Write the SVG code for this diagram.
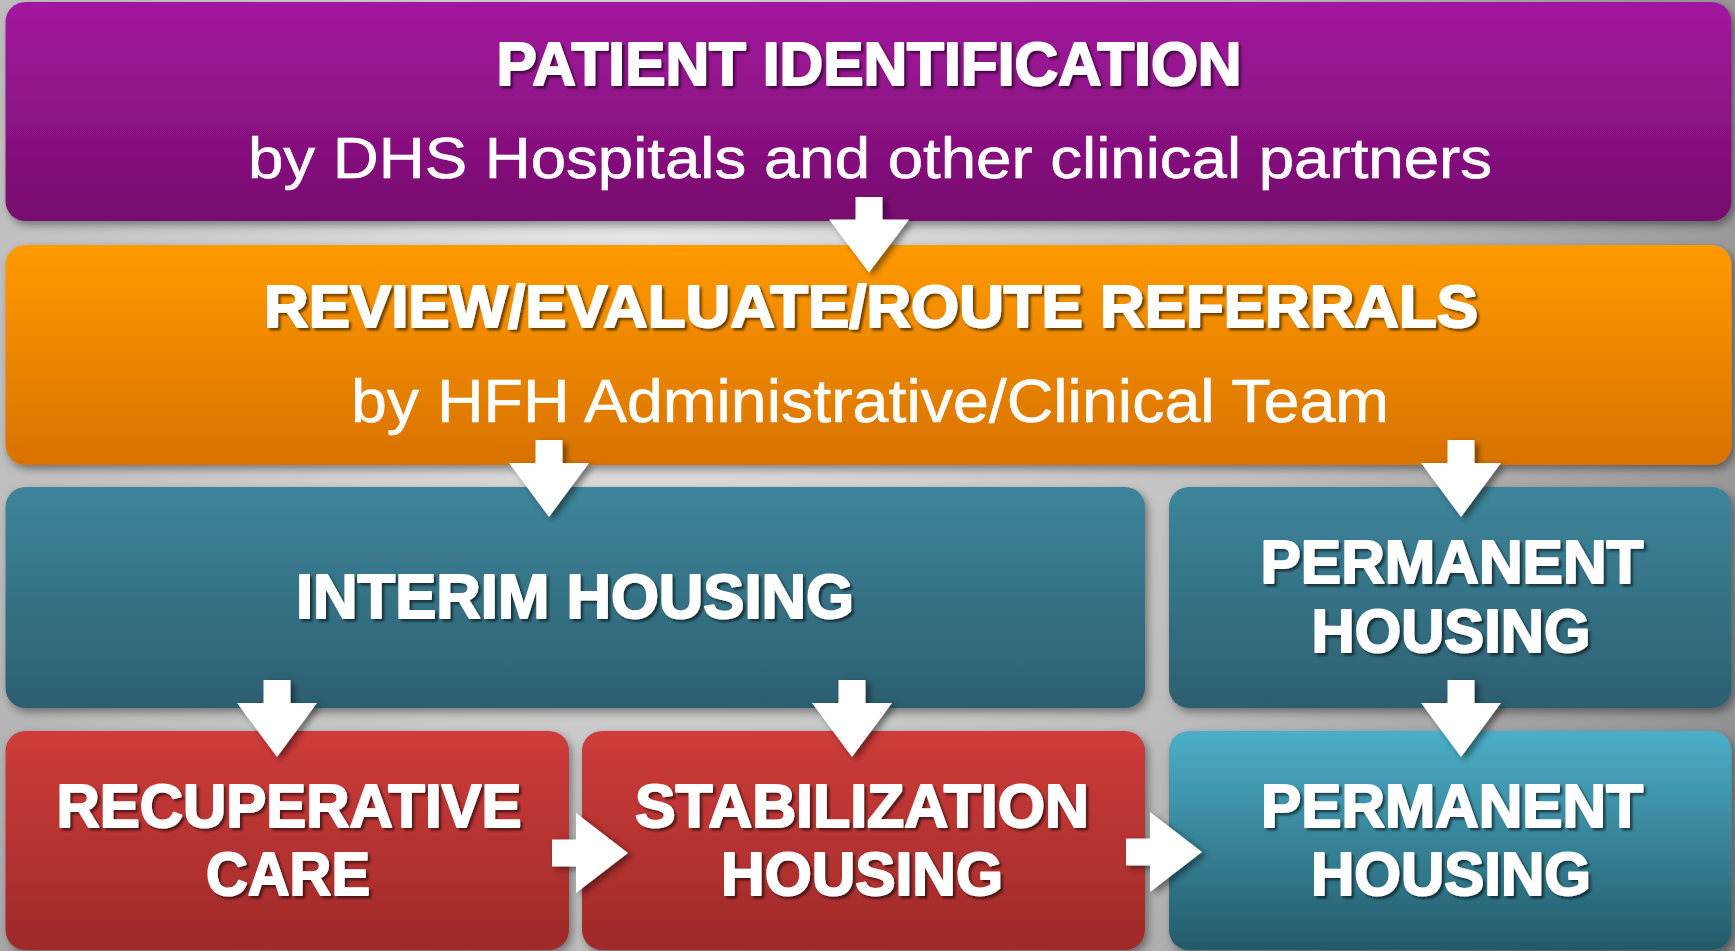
<svg xmlns="http://www.w3.org/2000/svg" xmlns:xlink="http://www.w3.org/1999/xlink" width="1735" height="951" viewBox="0 0 1735 951">
  <defs>
    <radialGradient id="bg" cx="640" cy="260" r="1250" gradientUnits="userSpaceOnUse">
      <stop offset="0" stop-color="#e6e6e6"/>
      <stop offset="0.55" stop-color="#bdbdbd"/>
      <stop offset="1" stop-color="#8c8c8c"/>
    </radialGradient>
    <linearGradient id="gPurple" x1="0" y1="0" x2="0" y2="1">
      <stop offset="0" stop-color="#a3189f"/>
      <stop offset="1" stop-color="#770d6d"/>
    </linearGradient>
    <linearGradient id="gOrange" x1="0" y1="0" x2="0" y2="1">
      <stop offset="0" stop-color="#ff9a00"/>
      <stop offset="1" stop-color="#d87200"/>
    </linearGradient>
    <linearGradient id="gTeal" x1="0" y1="0" x2="0" y2="1">
      <stop offset="0" stop-color="#3e859b"/>
      <stop offset="1" stop-color="#2c5f70"/>
    </linearGradient>
    <linearGradient id="gRed" x1="0" y1="0" x2="0" y2="1">
      <stop offset="0" stop-color="#ce3c3a"/>
      <stop offset="1" stop-color="#9e2a29"/>
    </linearGradient>
    <linearGradient id="gBlue" x1="0" y1="0" x2="0" y2="1">
      <stop offset="0" stop-color="#4caec8"/>
      <stop offset="1" stop-color="#235a6a"/>
    </linearGradient>
    <filter id="boxShadow" x="-5%" y="-10%" width="110%" height="125%">
      <feDropShadow dx="3" dy="4" stdDeviation="4" flood-color="#000" flood-opacity="0.4"/>
    </filter>
    <filter id="txtShadow" x="-5%" y="-20%" width="110%" height="140%">
      <feDropShadow dx="2.5" dy="2.5" stdDeviation="1.2" flood-color="#000" flood-opacity="0.55"/>
    </filter>
    <filter id="arrowShadow" x="-30%" y="-20%" width="160%" height="150%">
      <feDropShadow dx="4" dy="3" stdDeviation="3" flood-color="#000" flood-opacity="0.45"/>
    </filter>
    <path id="downArrow" d="M-13.5,0 H13.5 V23 H40 L0,77 L-40,23 H-13.5 Z"/>
    <path id="rightArrow" d="M0,-13.5 V13.5 H24 V40 L76,0 L24,-40 V-13.5 Z"/>
    <style>
      .box { filter: url(#boxShadow); }
      .title { font-family: "Liberation Sans", Arial, sans-serif; font-weight: bold; fill: #ffffff; stroke: #ffffff; stroke-width: 2; stroke-linejoin: round; text-anchor: middle; filter: url(#txtShadow); }
      .sub { font-family: "Liberation Sans", Arial, sans-serif; fill: #ffffff; stroke: #ffffff; stroke-width: 0.6; text-anchor: middle; }
      .arrow { fill: #ffffff; filter: url(#arrowShadow); }
    </style>
  </defs>

  <rect x="0" y="0" width="1735" height="951" fill="url(#bg)"/>

  <g id="patient-identification">
    <rect class="box" x="5.5" y="2" width="1726" height="219" rx="20" fill="url(#gPurple)"/>
    <text class="title" x="869" y="85" font-size="62" textLength="745" lengthAdjust="spacingAndGlyphs">PATIENT IDENTIFICATION</text>
    <text class="sub" x="870" y="178" font-size="58" textLength="1244" lengthAdjust="spacingAndGlyphs">by DHS Hospitals and other clinical partners</text>
  </g>

  <g id="review-referrals">
    <rect class="box" x="5.5" y="245" width="1726" height="220" rx="20" fill="url(#gOrange)"/>
    <text class="title" x="871" y="327" font-size="60" textLength="1214" lengthAdjust="spacingAndGlyphs">REVIEW/EVALUATE/ROUTE REFERRALS</text>
    <text class="sub" x="870" y="422" font-size="61" textLength="1038" lengthAdjust="spacingAndGlyphs">by HFH Administrative/Clinical Team</text>
  </g>

  <g id="interim-housing">
    <rect class="box" x="5.5" y="487" width="1139.5" height="221" rx="20" fill="url(#gTeal)"/>
    <text class="title" x="575" y="618" font-size="63" textLength="558" lengthAdjust="spacingAndGlyphs">INTERIM HOUSING</text>
  </g>

  <g id="permanent-housing-top">
    <rect class="box" x="1169" y="487" width="562.5" height="221" rx="20" fill="url(#gTeal)"/>
    <text class="title" x="1452" y="583" font-size="62" textLength="383" lengthAdjust="spacingAndGlyphs">PERMANENT</text>
    <text class="title" x="1451" y="652" font-size="62" textLength="279" lengthAdjust="spacingAndGlyphs">HOUSING</text>
  </g>

  <g id="recuperative-care">
    <rect class="box" x="5.5" y="731" width="563.5" height="219" rx="20" fill="url(#gRed)"/>
    <text class="title" x="289" y="827" font-size="62" textLength="465" lengthAdjust="spacingAndGlyphs">RECUPERATIVE</text>
    <text class="title" x="288" y="895" font-size="62" textLength="164" lengthAdjust="spacingAndGlyphs">CARE</text>
  </g>

  <g id="stabilization-housing">
    <rect class="box" x="582" y="731" width="563" height="219" rx="20" fill="url(#gRed)"/>
    <text class="title" x="862" y="827" font-size="62" textLength="454" lengthAdjust="spacingAndGlyphs">STABILIZATION</text>
    <text class="title" x="862" y="895" font-size="62" textLength="282" lengthAdjust="spacingAndGlyphs">HOUSING</text>
  </g>

  <g id="permanent-housing-bottom">
    <rect class="box" x="1169" y="731" width="562.5" height="219" rx="20" fill="url(#gBlue)"/>
    <text class="title" x="1452" y="827" font-size="62" textLength="382" lengthAdjust="spacingAndGlyphs">PERMANENT</text>
    <text class="title" x="1451" y="895" font-size="62" textLength="280" lengthAdjust="spacingAndGlyphs">HOUSING</text>
  </g>

  <g id="connectors">
    <use class="arrow" href="#downArrow" xlink:href="#downArrow" transform="translate(869,197) scale(1,0.98)"/>
    <use class="arrow" href="#downArrow" xlink:href="#downArrow" transform="translate(549,440)"/>
    <use class="arrow" href="#downArrow" xlink:href="#downArrow" transform="translate(1461,440)"/>
    <use class="arrow" href="#downArrow" xlink:href="#downArrow" transform="translate(277,680)"/>
    <use class="arrow" href="#downArrow" xlink:href="#downArrow" transform="translate(852,680)"/>
    <use class="arrow" href="#downArrow" xlink:href="#downArrow" transform="translate(1461,680)"/>
    <use class="arrow" href="#rightArrow" xlink:href="#rightArrow" transform="translate(552,853)"/>
    <use class="arrow" href="#rightArrow" xlink:href="#rightArrow" transform="translate(1126,852)"/>
  </g>
</svg>
